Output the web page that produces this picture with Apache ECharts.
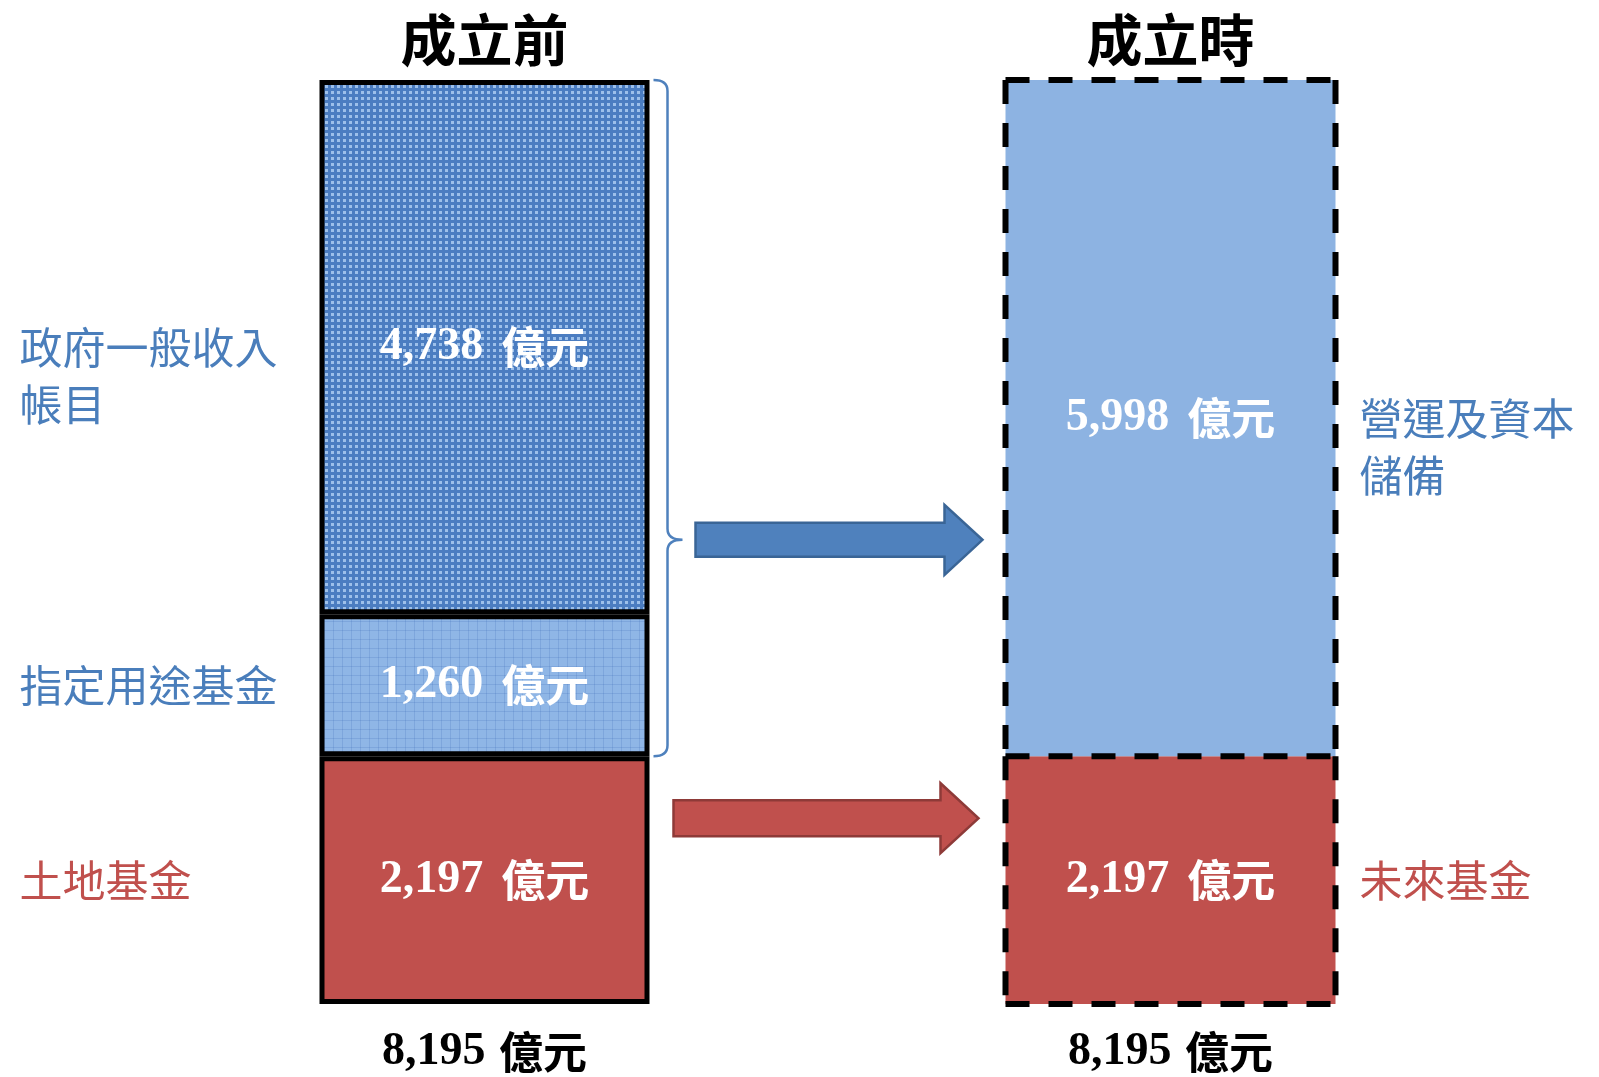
<!DOCTYPE html>
<html>
<head>
<meta charset="utf-8">
<script src="https://cdn.jsdelivr.net/npm/echarts@6/dist/echarts.min.js"></script>
<style>
html,body{margin:0;padding:0;background:#ffffff;}
#c{width:1599px;height:1077px;}
</style>
</head>
<body>
<div id="c"></div>
<script>
// ---------- data ----------
const COLUMNS = ['成立前', '成立時'];
const UNIT = '億元';
const BEFORE_NAMES = ['政府一般收入帳目', '指定用途基金', '土地基金'];   // top to bottom
const BEFORE_VALUES = [4738, 1260, 2197];
const AFTER_NAMES = ['營運及資本儲備', '未來基金'];                    // top to bottom
const AFTER_VALUES = [5998, 2197];

// ---------- helpers ----------
const fmt = v => Number(v).toLocaleString('en-US');
const sum = a => a.reduce((s, v) => s + v, 0);
const TOTALS = [sum(BEFORE_VALUES), sum(AFTER_VALUES)];
function spans(values) { // [lo, hi] per item, items listed top to bottom, stacked from bottom
  const res = new Array(values.length); let acc = 0;
  for (let i = values.length - 1; i >= 0; i--) { res[i] = [acc, acc + values[i]]; acc += values[i]; }
  return res;
}
const BEFORE_SPANS = spans(BEFORE_VALUES);
const AFTER_SPANS = spans(AFTER_VALUES);

function makePattern(w, h, draw) {
  const c = document.createElement('canvas'); c.width = w; c.height = h;
  draw(c.getContext('2d')); return c;
}
const patDots = makePattern(6, 6, g => {
  g.fillStyle = '#4b7dc1'; g.fillRect(0, 0, 6, 6);
  g.fillStyle = '#9dc0ea'; g.fillRect(1, 1, 3, 3);
});
const patGrid = makePattern(9, 9, g => {
  g.fillStyle = '#8fb6e6'; g.fillRect(0, 0, 9, 9);
  g.fillStyle = '#6f9ad4';
  for (let i = 0; i < 9; i += 2) { g.fillRect(i, 0, 1, 1); g.fillRect(0, i, 1, 1); }
  g.fillStyle = '#7ea6dc'; g.fillRect(1, 0, 8, 1); g.fillRect(0, 1, 1, 8);
});

const RED = '#c0504d';
const BLUE_TXT = '#4a7ebb';
const BEFORE_FILLS = [{ image: patDots, repeat: 'repeat' }, { image: patGrid, repeat: 'repeat' }, RED];
const AFTER_FILLS = ['#8db3e2', RED];
const BEFORE_TXT = [BLUE_TXT, BLUE_TXT, RED];
const AFTER_TXT = [BLUE_TXT, RED];
const BAR_W = 330;
const HALF = BAR_W / 2;
const CJK = '"Noto Sans CJK TC", "Noto Sans CJK SC", sans-serif';
const SERIF = '"Liberation Serif", "DejaVu Serif", serif';

const valueLabel = {
  show: true, position: 'inside', fontSize: 44, color: '#fff',
  formatter: p => '{n|' + fmt(p.value) + '} {u|' + UNIT + '}',
  rich: {
    n: { fontFamily: SERIF, fontWeight: 'bold', fontSize: 46, color: '#fff' },
    u: { fontFamily: CJK, fontWeight: 'bold', fontSize: 44, color: '#fff', padding: [0, 0, 0, 6] }
  }
};

const series = [];
for (let i = BEFORE_VALUES.length - 1; i >= 0; i--) {
  series.push({
    type: 'bar', name: BEFORE_NAMES[i], stack: 'total', barWidth: BAR_W, z: 2,
    data: [BEFORE_VALUES[i], '-'],
    itemStyle: { color: BEFORE_FILLS[i], borderColor: '#000', borderWidth: 5 },
    label: valueLabel
  });
}
for (let i = AFTER_VALUES.length - 1; i >= 0; i--) {
  series.push({
    type: 'bar', name: AFTER_NAMES[i], stack: 'total', barWidth: BAR_W, z: 2,
    data: ['-', AFTER_VALUES[i]],
    itemStyle: { color: AFTER_FILLS[i], borderWidth: 0 },
    label: valueLabel
  });
}

// side labels
const sideData = [], sideNames = [], sideColors = [];
BEFORE_SPANS.forEach((s, i) => { sideData.push([0, s[0], s[1]]); sideNames.push(BEFORE_NAMES[i]); sideColors.push(BEFORE_TXT[i]); });
AFTER_SPANS.forEach((s, i) => { sideData.push([1, s[0], s[1]]); sideNames.push(AFTER_NAMES[i]); sideColors.push(AFTER_TXT[i]); });
series.push({
  type: 'custom', name: 'sideLabels', clip: false, z: 5, silent: true,
  data: sideData,
  renderItem: (params, api) => {
    const cat = api.value(0);
    const pt = api.coord([cat, api.value(2)]);
    const pb = api.coord([cat, api.value(1)]);
    const mid = (pt[1] + pb[1]) / 2;
    const left = cat === 0;
    const x = left ? pt[0] - HALF - 300 : pt[0] + HALF + 24;
    return {
      type: 'text', x: x, y: mid - 28,
      style: {
        text: sideNames[params.dataIndex], fill: sideColors[params.dataIndex],
        fontSize: 43, fontFamily: CJK, fontWeight: 'normal',
        width: left ? 266 : 236, overflow: 'break', lineHeight: 57,
        align: 'left', verticalAlign: 'top'
      }
    };
  }
});

// dashed outline of the after column
series.push({
  type: 'custom', name: 'outline', clip: false, z: 4, silent: true,
  data: AFTER_SPANS.map(s => [1, s[0], s[1]]),
  renderItem: (params, api) => {
    const cat = api.value(0);
    const pt = api.coord([cat, api.value(2)]);
    const pb = api.coord([cat, api.value(1)]);
    const x0 = pt[0] - HALF, x1 = pt[0] + HALF;
    const st = { stroke: '#000', lineWidth: 6, lineDash: [24, 19] };
    const kids = [
      { type: 'line', shape: { x1: x0, y1: pt[1], x2: x1, y2: pt[1] }, style: st },
      { type: 'line', shape: { x1: x0, y1: pt[1], x2: x0, y2: pb[1] }, style: st },
      { type: 'line', shape: { x1: x1, y1: pt[1], x2: x1, y2: pb[1] }, style: st }
    ];
    if (api.value(1) === 0) kids.push({ type: 'line', shape: { x1: x0, y1: pb[1], x2: x1, y2: pb[1] }, style: st });
    return { type: 'group', children: kids };
  }
});

// arrows (one per after segment) and brace
const ARROW_STYLE = [
  { fill: '#4f81bd', stroke: '#3a6596', at: 0.68, startGap: 46, endGap: 23, shaft: 17, head: 35 },
  { fill: '#c0504d', stroke: '#8e3a38', at: 0.25, startGap: 24, endGap: 27, shaft: 18, head: 35 }
];
series.push({
  type: 'custom', name: 'arrows', clip: false, z: 6, silent: true,
  data: AFTER_SPANS.map(s => [1, s[0], s[1]]),
  renderItem: (params, api) => {
    const a = ARROW_STYLE[params.dataIndex];
    const pt = api.coord([1, api.value(2)]);
    const pb = api.coord([1, api.value(1)]);
    const pl = api.coord([0, api.value(2)]);
    const y = pt[1] + (pb[1] - pt[1]) * a.at;
    const xs = pl[0] + HALF + a.startGap;
    const xe = pt[0] - HALF - a.endGap;
    const xh = xe - 38;
    const children = [{
      type: 'polygon',
      shape: { points: [[xs, y - a.shaft], [xh, y - a.shaft], [xh, y - a.head], [xe, y], [xh, y + a.head], [xh, y + a.shaft], [xs, y + a.shaft]] },
      style: { fill: a.fill, stroke: a.stroke, lineWidth: 2.5, lineJoin: 'miter' }
    }];
    if (params.dataIndex === 0) {
      // brace grouping the blue segments of the before column
      const top = api.coord([0, BEFORE_SPANS[0][1]])[1];
      const bot = api.coord([0, BEFORE_SPANS[1][0]])[1];
      const bx = pl[0] + HALF + 4, vx = bx + 14, tx = bx + 29, r = 11;
      const d = 'M' + bx + ',' + top + ' Q' + vx + ',' + top + ' ' + vx + ',' + (top + r) +
        ' L' + vx + ',' + (y - r) + ' Q' + vx + ',' + y + ' ' + tx + ',' + y +
        ' Q' + vx + ',' + y + ' ' + vx + ',' + (y + r) +
        ' L' + vx + ',' + (bot - r) + ' Q' + vx + ',' + bot + ' ' + bx + ',' + bot;
      children.push({
        type: 'path',
        shape: { pathData: d, x: bx, y: top, width: tx - bx, height: bot - top, layout: 'cover' },
        style: { fill: null, stroke: '#4f81bd', lineWidth: 2.5 }
      });
    }
    return { type: 'group', children: children };
  }
});

const chart = echarts.init(document.getElementById('c'), null, { renderer: 'canvas' });
chart.setOption({
  animation: false,
  backgroundColor: '#ffffff',
  grid: { left: 141.5, right: 85.5, top: 80, bottom: 73, containLabel: false, outerBoundsMode: 'none' },
  xAxis: [
    {
      type: 'category', data: COLUMNS, position: 'top',
      axisLine: { show: false }, axisTick: { show: false }, splitLine: { show: false },
      axisLabel: { fontSize: 56, fontWeight: 'bold', color: '#000', fontFamily: CJK, margin: 12 }
    },
    {
      type: 'category', data: TOTALS.map(t => fmt(t) + ' ' + UNIT), position: 'bottom',
      axisLine: { show: false }, axisTick: { show: false }, splitLine: { show: false },
      axisLabel: {
        margin: 25, color: '#000',
        formatter: (v, i) => '{n|' + fmt(TOTALS[i]) + '} {u|' + UNIT + '}',
        rich: {
          n: { fontFamily: SERIF, fontWeight: 'bold', fontSize: 46, color: '#000' },
          u: { fontFamily: CJK, fontWeight: 'bold', fontSize: 44, color: '#000', padding: [0, 0, 0, 10] }
        }
      }
    }
  ],
  yAxis: { type: 'value', min: 0, max: Math.max.apply(null, TOTALS), show: false, splitLine: { show: false } },
  series: series
});
</script>
</body>
</html>
